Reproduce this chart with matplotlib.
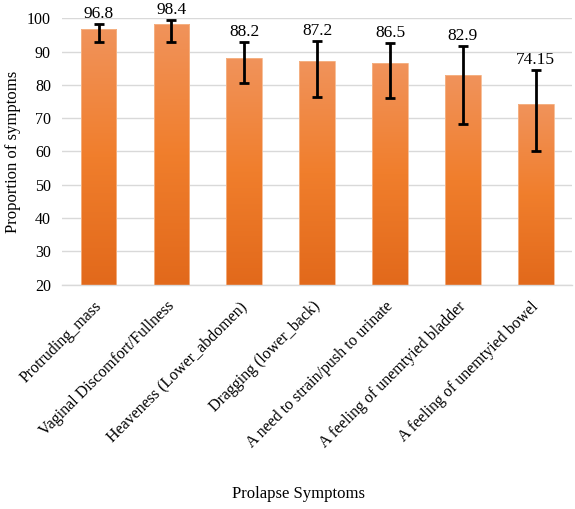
import matplotlib.pyplot as plt
import matplotlib.transforms as mtransforms
import numpy as np
from matplotlib.colors import LinearSegmentedColormap

symptoms = ['Protruding_mass', 'Vaginal Discomfort/Fullness', 'Heaveness (Lower_abdomen)',
            'Dragging (lower_back)', 'A need to strain/push to urinate',
            'A feeling of unemtyied bladder', 'A feeling of unemtyied bowel']
values = [96.8, 98.4, 88.2, 87.2, 86.5, 82.9, 74.15]
labels = ['96.8', '98.4', '88.2', '87.2', '86.5', '82.9', '74.15']
err_low = [92.8, 92.8, 80.7, 76.4, 76.1, 68.2, 60.0]
err_high = [98.3, 99.6, 92.9, 93.1, 92.6, 91.8, 84.4]

plt.rcParams['font.family'] = ['Liberation Serif', 'DejaVu Serif']

fig = plt.figure(figsize=(5.75, 5.09), dpi=100)
ax = fig.add_axes([0.108, 0.441, 0.887, 0.523])

x = np.arange(len(symptoms))
bars = ax.bar(x, np.array(values) - 20, bottom=20, width=0.49, color='none',
              edgecolor='#F5B68A', linewidth=0.6, zorder=3)

#gradient fill for each bar, light at top, dark at bottom
cmap = LinearSegmentedColormap.from_list('orng', ['#E2691B', '#F07E2C', '#F1935B'])
grad = np.linspace(0, 1, 256).reshape(-1, 1)
for b in bars:
    x0, y0 = b.get_x(), b.get_y()
    im = ax.imshow(grad, cmap=cmap, origin='lower', aspect='auto', zorder=2,
                   extent=[x0, x0 + b.get_width(), y0, y0 + b.get_height()])
    im.set_clip_path(b)

lo = np.array(values) - np.array(err_low)
hi = np.array(err_high) - np.array(values)
ax.errorbar(x, values, yerr=[lo, hi], fmt='none', ecolor='black', elinewidth=2,
            capsize=3.5, capthick=2, zorder=4)

for i in range(len(x)):
    ax.text(x[i], err_high[i] + 0.6, labels[i], ha='center', va='bottom', fontsize=12.5, zorder=5)

ax.set_xlim(-0.5, len(x) - 0.5)
ax.set_ylim(20, 100)
ax.set_yticks(np.arange(20, 101, 10))
ax.yaxis.grid(True, color='#D9D9D9', linewidth=1)
ax.set_axisbelow(True)
for s in ['top', 'right', 'left']:
    ax.spines[s].set_visible(False)
ax.spines['bottom'].set_color('#D9D9D9')
ax.spines['bottom'].set_linewidth(1)
ax.tick_params(axis='both', length=0, labelsize=11.5)
ax.tick_params(axis='y', pad=8)
ax.set_xticks(x)
ax.set_xticklabels(symptoms, rotation=45, ha='right', rotation_mode='anchor')
ax.tick_params(axis='x', pad=10)
# nudge rotated labels so their ends sit right under the bars
off = mtransforms.ScaledTranslation(-5/100, 0, fig.dpi_scale_trans)
for t in ax.get_xticklabels():
    t.set_transform(t.get_transform() + off)

ax.set_ylabel('Proportion of symptoms', fontsize=12)
fig.text(0.52, 0.03, 'Prolapse Symptoms', ha='center', va='center', fontsize=12)

plt.savefig('out.png', dpi=100)
